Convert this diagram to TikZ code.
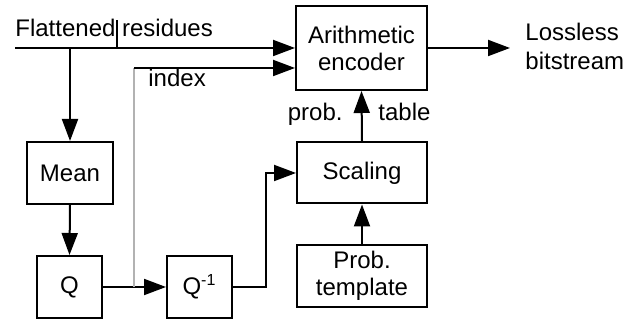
\documentclass[tikz,border=0pt]{standalone}
\usepackage{fontspec}
\setmainfont{Liberation Sans}
\usetikzlibrary{arrows.meta}

\tikzset{
    blk/.style={draw,line width=1pt,align=center,inner sep=0pt,font=\fontsize{12}{13.5}\selectfont},
    lbl/.style={inner sep=0pt,align=left,font=\fontsize{12}{14.5}\selectfont},
    arr/.style={line width=1pt,-{Triangle[length=11pt,width=8pt]}},
    wire/.style={line width=1pt}
}

\begin{document}
\begin{tikzpicture}[x=0.5pt,y=0.5pt]
                \useasboundingbox (0,0) rectangle (635,325);
                \node[blk,minimum width=65.5pt,minimum height=42pt] (enc) at (361.5,277) {Arithmetic\\encoder};
                \node[blk,minimum width=65pt,minimum height=30.5pt] (scal) at (362,152) {Scaling};
                \node[blk,minimum width=65pt,minimum height=31pt] (tmpl) at (362,49) {Prob.\\template};
                \node[blk,minimum width=43pt,minimum height=31pt] (mean) at (70,152) {Mean};
                \node[blk,minimum width=32.5pt,minimum height=31pt] (q) at (69.5,38) {Q};
                \node[blk,minimum width=32.5pt,minimum height=31pt] (qi) at (199.5,38) {Q\textsuperscript{-1}};

                \node[lbl,anchor=base west] (res) at (15,288) {Flattened residues};
                \node[lbl,anchor=base west] (idx) at (148,238) {index};
                \node[lbl,anchor=base east] (prob) at (343,204) {prob.};
                \node[lbl,anchor=base west] (tab) at (378,204) {table};
                \node[lbl,anchor=west,inner xsep=7.5pt] (bits) at (510,279) {Lossless\\bitstream};

                \coordinate (in) at (15,277);
                \coordinate (br) at (70,277);
                \coordinate (tk) at (117,277);
                \coordinate (tap) at (134,38);
                \coordinate (up) at (134,257);

                \draw[arr] (in) -- (enc.west |- in);
                \draw[wire] (tk) -- ++(0,28);
                \draw[arr] (br) -- (mean.north);
                \draw[arr] (mean.south) -- (q.north);
                \draw[arr] (q.east) -- (qi.west);
                \draw[wire,gray!60,line width=1.2pt] (tap) -- (up);
                \draw[arr] (up) -- (enc.west |- up);
                \draw[arr] (qi.east) -- ++(33,0) |- (scal.west);
                \draw[arr] (tmpl.north) -- (scal.south);
                \draw[arr] (scal.north) -- (enc.south);
                \draw[arr] (enc.east) -- (bits.west |- enc.east);
\end{tikzpicture}
\end{document}
